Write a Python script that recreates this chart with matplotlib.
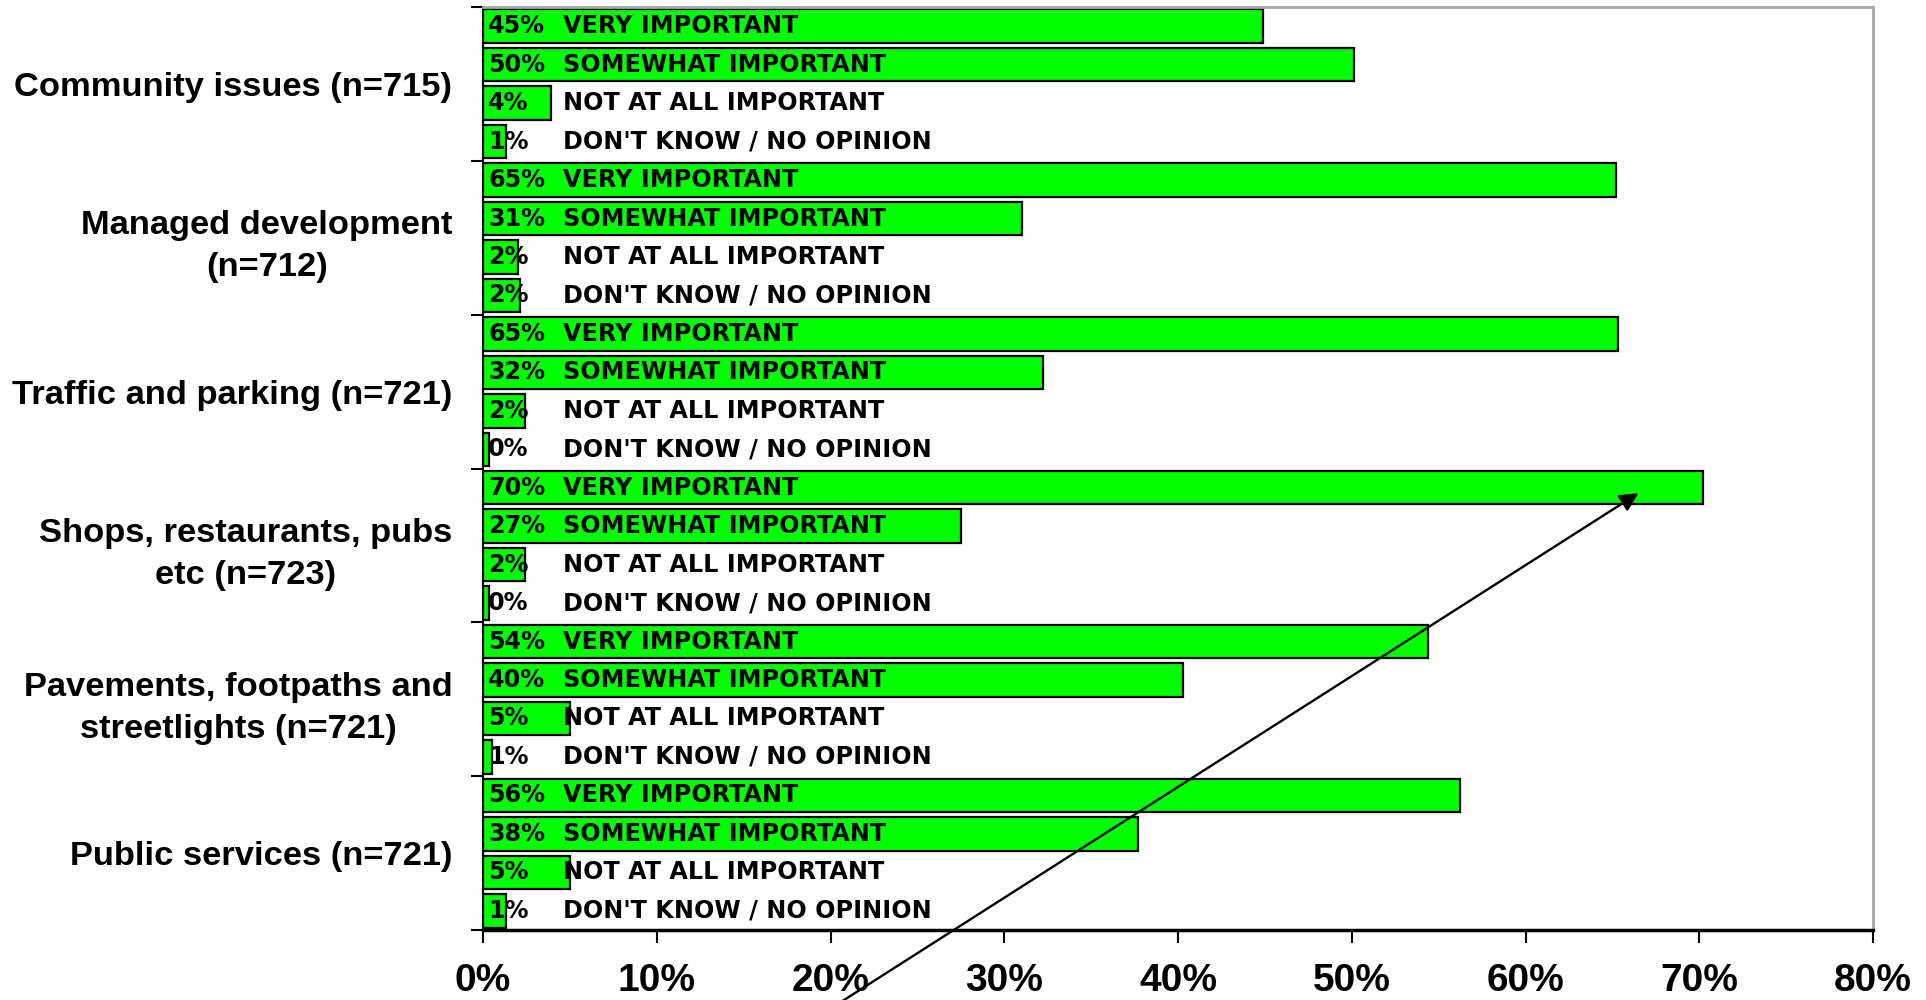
import matplotlib
matplotlib.use("Agg")
import matplotlib.pyplot as plt
import numpy as np

# survey topics (top to bottom) and the four answer options
topics = ["Community issues (n=715)",
          "Managed development\n(n=712)",
          "Traffic and parking (n=721)",
          "Shops, restaurants, pubs\netc (n=723)",
          "Pavements, footpaths and\nstreetlights (n=721)",
          "Public services (n=721)"]
answers = ["VERY IMPORTANT", "SOMEWHAT IMPORTANT",
           "NOT AT ALL IMPORTANT", "DON'T KNOW / NO OPINION"]

# percentages (bar lengths) per topic, in answer order
very_important     = [44.9, 65.2, 65.3, 70.2, 54.4, 56.2]
somewhat_important = [50.1, 31.0, 32.2, 27.5, 40.3, 37.7]
not_important      = [3.9, 2.0, 2.4, 2.4, 5.0, 5.0]
dont_know          = [1.35, 2.1, 0.35, 0.35, 0.5, 1.35]

# rounded labels printed on the bars
labels_vi = ["45%", "65%", "65%", "70%", "54%", "56%"]
labels_si = ["50%", "31%", "32%", "27%", "40%", "38%"]
labels_na = ["4%", "2%", "2%", "2%", "5%", "5%"]
labels_dk = ["1%", "2%", "0%", "0%", "1%", "1%"]

xticks = [0, 10, 20, 30, 40, 50, 60, 70, 80]

GREEN = "#00FF00"
BAR_FONT = dict(family="DejaVu Sans", weight="bold", size=17.2)

fig = plt.figure(figsize=(19.26, 10), dpi=100)
ax = fig.add_axes([0.2508, 0.070, 0.7217, 0.923])

series = [very_important, somewhat_important, not_important, dont_know]
labels = [labels_vi, labels_si, labels_na, labels_dk]
n_ans = len(answers)

for t in range(len(topics)):
    for a in range(n_ans):
        y = t * n_ans + a
        v = series[a][t]
        ax.barh(y, v, height=0.87, color=GREEN, edgecolor="black", linewidth=1.6)
        ax.text(0.3, y, labels[a][t], ha="left", va="center", **BAR_FONT)
        ax.text(4.6, y, answers[a], ha="left", va="center", **BAR_FONT)

ax.set_xlim(0, 80)
ax.set_ylim(len(topics) * n_ans - 0.5, -0.5)

ax.set_xticks(xticks)
ax.set_xticklabels([f"{x}%" for x in xticks],
                   family=["Liberation Sans Narrow", "Liberation Sans"],
                   weight="bold", size=28)
ax.tick_params(axis="x", direction="out", length=9, width=1.5, pad=15)

centers = [t * n_ans + (n_ans - 1) / 2 for t in range(len(topics))]
ax.set_yticks(centers)
ax.set_yticklabels(topics, family="Liberation Sans", weight="bold", size=24.8,
                   multialignment="center", linespacing=1.45)
ax.tick_params(axis="y", which="major", length=0, pad=22)
ax.set_yticks([t * n_ans - 0.5 for t in range(len(topics) + 1)], minor=True)
ax.tick_params(axis="y", which="minor", direction="out", length=9, width=1.5)

for side in ("top", "right"):
    ax.spines[side].set_color("#A8A8A8")
    ax.spines[side].set_linewidth(2)
ax.spines["left"].set_color("black")
ax.spines["left"].set_linewidth(1.5)
ax.spines["bottom"].set_color("black")
ax.spines["bottom"].set_linewidth(2.5)

# arrow drawn across the chart toward the top "very important" bar
ax.annotate("", xy=(66.5, 12.14), xytext=(20.5, 25.4),
            xycoords="data", textcoords="data", annotation_clip=False,
            arrowprops=dict(arrowstyle="-|>", color="black", lw=1.7,
                            mutation_scale=28, shrinkA=0, shrinkB=0))

fig.savefig("out.png", dpi=100)
